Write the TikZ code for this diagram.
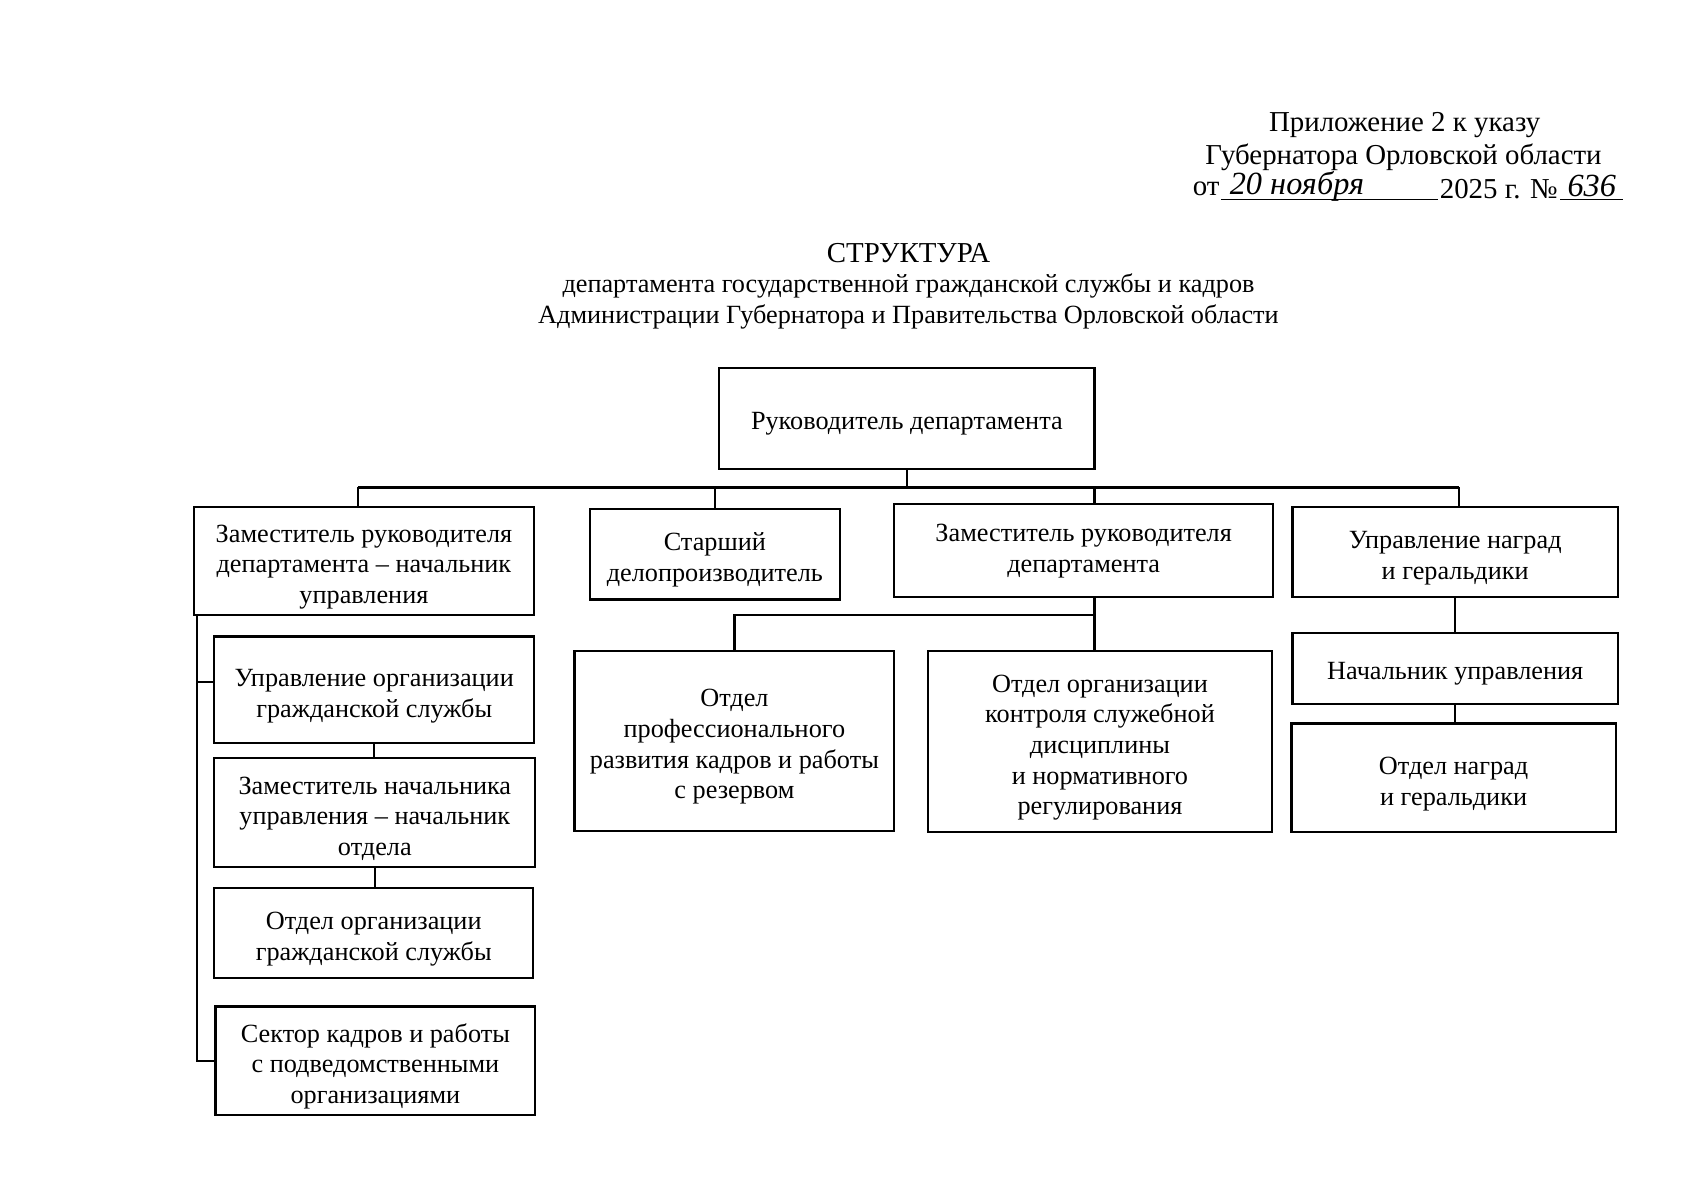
\documentclass[tikz,border=0pt]{standalone}
\usepackage{fontspec}
\setmainfont{Liberation Serif}
\newcommand{\ml}[1]{\begin{tabular}{@{}c@{}}\rule{0pt}{16.4pt}#1\end{tabular}}
\begin{document}
\begin{tikzpicture}[x=0.01894cm, y=-0.01894cm,
  sz/.style 2 args={minimum width=#1*0.01894cm, minimum height=#2*0.01894cm},
  box/.style={draw, line width=1.1pt, inner sep=0pt, font=\fontsize{13}{15.2}\selectfont},
  low/.style={execute at begin node={\rule{0pt}{14pt}}},
  conn/.style={line width=1.1pt},
  txt/.style={inner sep=0pt, font=\fontsize{13}{15}\selectfont},
  head/.style={inner sep=0pt, font=\fontsize{14.3}{16}\selectfont},
  hand/.style={inner sep=0pt, font=\fontsize{16}{16}\selectfont\itshape}]
\useasboundingbox (0,0) rectangle (1568,1103);
% header
\node[head] (h1) at (1291,115) {Приложение 2 к указу};
\node[head] (h2) at (1290,145) {Губернатора Орловской области};
\node[head, anchor=west] (h3a) at (1096,174) {от};
\node[hand] (h3b) at (1192,171) {20 ноября};
\node[head, anchor=west] (h3c) at (1323,174) {2025 г. №};
\node[hand] (h3d) at (1463,171) {636};
\coordinate (u1a) at (1122,183); \coordinate (u1b) at (1322,183);
\coordinate (u2a) at (1434,183); \coordinate (u2b) at (1492,183);
\draw[line width=0.6pt] (u1a) -- (u1b);
\draw[line width=0.6pt] (u2a) -- (u2b);
% title
\node[txt, font=\fontsize{14.3}{16}\selectfont] (t1) at (835,233) {СТРУКТУРА};
\node[txt] (t2) at (835,263) {департамента государственной гражданской службы и кадров};
\node[txt] (t3) at (835,291) {Администрации Губернатора и Правительства Орловской области};
% boxes
\node[box, low, sz={345}{93}] (top) at (833.5,384.5) {Руководитель департамента};
\node[box, sz={313}{99}] (L1) at (334.5,515.5) {\ml{Заместитель руководителя\\департамента – начальник\\управления}};
\node[box, sz={230}{83}] (S) at (657,509.5) {\ml{Старший\\делопроизводитель}};
\node[box, sz={348}{86}] (Z) at (996,506) {\begin{tabular}{@{}c@{}}Заместитель руководителя\\департамента\end{tabular}};
\node[box, sz={299}{83}] (U) at (1337.5,507.5) {\ml{Управление наград\\и геральдики}};
\node[box, sz={294}{98}] (L2) at (344,634) {\ml{Управление организации\\гражданской службы}};
\node[box, sz={295}{100}] (L3) at (344.5,747) {\ml{Заместитель начальника\\управления – начальник\\отдела}};
\node[box, sz={293}{83}] (L4) at (343.5,857.5) {\ml{Отдел организации\\гражданской службы}};
\node[box, sz={294}{100}] (L5) at (345,975) {\ml{Сектор кадров и работы\\с подведомственными\\организациями}};
\node[box, sz={294}{166}] (O1) at (675,681) {\ml{Отдел\\профессионального\\развития кадров и работы\\с резервом}};
\node[box, sz={316}{167}] (O2) at (1011,681.5) {\ml{Отдел организации\\контроля служебной\\дисциплины\\и нормативного\\регулирования}};
\node[box, low, sz={299}{65}] (N) at (1337.5,614.5) {Начальник управления};
\node[box, sz={298}{100}] (G) at (1336,715) {\ml{Отдел наград\\и геральдики}};
% connectors
\coordinate (busL) at (329,448);
\coordinate (busR) at (1341,448);
\coordinate (zd) at (1006,448);
\coordinate (ob) at (1006,565);
\coordinate (lb) at (181,0);
\coordinate (t2y) at (0,627);
\draw[conn] (top.south) -- (top.south |- busL);
\draw[conn] (busL) -- (busR);
\draw[conn] (busL) -- (busL |- L1.north);
\draw[conn] (S.north |- busL) -- (S.north);
\draw[conn] (zd) -- (zd |- Z.north);
\draw[conn] (busR) -- (busR |- U.north);
\draw[conn] (zd |- Z.south) -- (zd |- O2.north);
\draw[conn] (ob) -| (O1.north);
\draw[conn] (U.south) -- (N.north);
\draw[conn] (N.south) -- (N.south |- G.north);
\draw[conn] (lb |- L1.south) -- (lb |- L5.west) -- (L5.west);
\draw[conn] (lb |- t2y) -- (L2.west |- t2y);
\draw[conn] (L2.south) -- (L2.south |- L3.north);
\draw[conn] (L3.south) -- (L3.south |- L4.north);
\end{tikzpicture}
\end{document}
